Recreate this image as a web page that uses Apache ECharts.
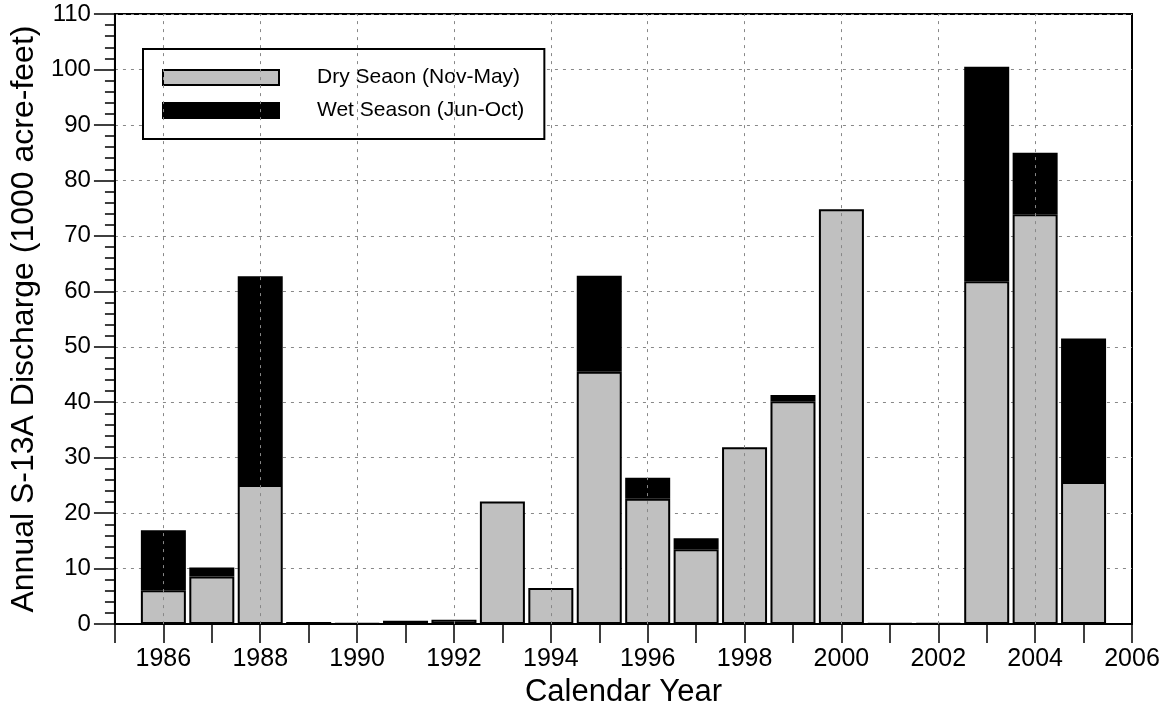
<!DOCTYPE html>
<html>
<head>
<meta charset="utf-8">
<script src="https://cdn.jsdelivr.net/npm/echarts@6/dist/echarts.min.js"></script>
<style>
html,body{margin:0;padding:0;background:#fff;}
#chart{width:1167px;height:713px;}
</style>
</head>
<body>
<div id="chart"></div>
<script>
var years = [1986,1987,1988,1989,1990,1991,1992,1993,1994,1995,1996,1997,1998,1999,2000,2001,2002,2003,2004,2005];
var drySeason = [6.1,8.6,25.1,0.4,0.1,0.6,0.8,22.1,6.5,45.5,22.6,13.5,31.9,40.2,74.8,0.15,0.15,61.8,73.9,25.6];
var wetSeason = [10.8,1.6,37.6,null,null,null,null,null,null,17.3,3.8,2.0,null,1.1,null,null,null,38.7,11.1,25.9];
var gridYears = [1986,1988,1990,1992,1994,1996,1998,2000,2002,2004];
var seriesNames = ['Dry Seaon (Nov-May)','Wet Season (Jun-Oct)'];
var xTitle = 'Calendar Year';
var yTitle = 'Annual S-13A Discharge (1000 acre-feet)';

var FONT = '"Liberation Sans", Arial, sans-serif';
var chart = echarts.init(document.getElementById('chart'), null, {renderer:'canvas'});

// value first, year second, so stacking works on the value dimension
function pairs(vals){ return years.map(function(y,i){ return [vals[i] == null ? '-' : vals[i], y]; }); }

chart.setOption({
  animation:false,
  backgroundColor:'#fff',
  grid:{left:114,right:35,top:14,bottom:84,show:true,borderColor:'#000',borderWidth:2,backgroundColor:'transparent',containLabel:false},
  legend:{
    orient:'vertical', left:143, top:49,
    padding:[18,20,18,19], itemGap:12,
    itemWidth:116, itemHeight:15,
    borderColor:'#000', borderWidth:2, backgroundColor:'#fff',
    icon:'rect',
    data:seriesNames,
    textStyle:{fontFamily:FONT,fontSize:21,color:'#000',padding:[0,0,0,33]}
  },
  xAxis:{
    type:'value', min:1985, max:2006, interval:1,
    name:xTitle, nameLocation:'middle', nameGap:51,
    nameTextStyle:{fontFamily:FONT,fontSize:31,color:'#000'},
    axisLine:{show:true,onZero:false,lineStyle:{color:'#000',width:2}},
    axisTick:{show:true,length:19,lineStyle:{color:'#000',width:1.5}},
    axisLabel:{margin:23,fontFamily:FONT,fontSize:25,color:'#000',
      formatter:function(v){ return (v%2===0)? String(v) : ''; }},
    splitLine:{show:false}
  },
  yAxis:{
    type:'value', min:0, max:110, interval:10,
    name:yTitle, nameLocation:'middle', nameGap:73,
    nameTextStyle:{fontFamily:FONT,fontSize:32,color:'#000'},
    axisLine:{show:true,lineStyle:{color:'#000',width:2}},
    axisTick:{show:true,length:21,lineStyle:{color:'#000',width:1.5}},
    minorTick:{show:true,splitNumber:5,length:10,lineStyle:{color:'#000',width:1.5}},
    axisLabel:{margin:24,fontFamily:FONT,fontSize:24,color:'#000'},
    splitLine:{show:true,lineStyle:{color:'#888',type:[3,5],width:1}}
  },
  series:[
    {
      type:'line', data:[], z:1, silent:true, symbol:'none',
      markLine:{
        silent:true, symbol:['none','none'], label:{show:false},
        lineStyle:{color:'#888',type:[3,5],width:1},
        data:gridYears.map(function(y){ return {xAxis:y}; })
      }
    },
    {
      name:seriesNames[0], type:'bar', stack:'total', z:3, barWidth:45,
      encode:{x:1, y:0},
      itemStyle:{color:'#c0c0c0',borderColor:'#000',borderWidth:2},
      data:pairs(drySeason)
    },
    {
      name:seriesNames[1], type:'bar', stack:'total', z:3, barWidth:45,
      encode:{x:1, y:0},
      itemStyle:{color:'#000',borderColor:'#000',borderWidth:2},
      data:pairs(wetSeason)
    }
  ]
});
</script>
</body>
</html>
